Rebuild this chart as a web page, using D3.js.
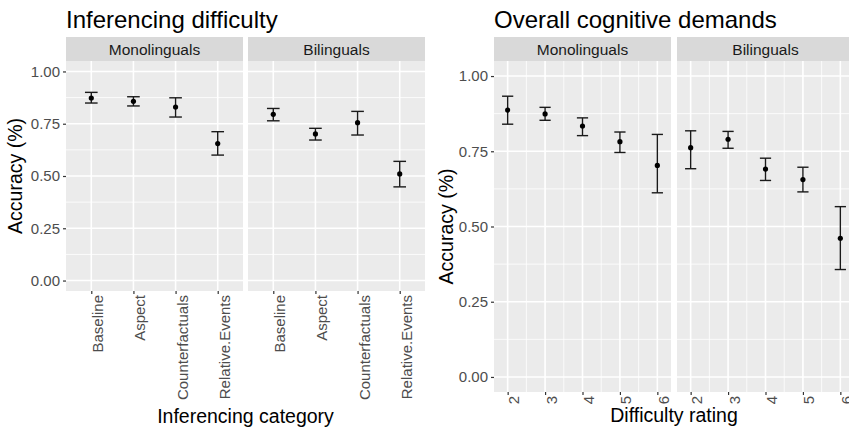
<!DOCTYPE html>
<html>
<head>
<meta charset="utf-8">
<script src="https://cdn.jsdelivr.net/npm/d3@7/dist/d3.min.js"></script>
<style>
  html, body { margin: 0; padding: 0; background: #fff; }
  svg { display: block; font-family: "Liberation Sans", Arial, Helvetica, sans-serif; }
</style>
</head>
<body>
<svg id="chart" width="849" height="430"></svg>
<script>
// ---------------- data ----------------
const groups = ["Monolinguals", "Bilinguals"];
const yTicks = [0, 0.25, 0.5, 0.75, 1];
const yTickLabels = ["0.00", "0.25", "0.50", "0.75", "1.00"];

// Left chart: inferencing difficulty
const infCategories = ["Baseline", "Aspect", "Counterfactuals", "Relative.Events"];
const infMonoMean = [0.873, 0.857, 0.830, 0.655];
const infMonoLow  = [0.849, 0.835, 0.782, 0.600];
const infMonoHigh = [0.900, 0.879, 0.874, 0.712];
const infBiMean   = [0.795, 0.701, 0.755, 0.510];
const infBiLow    = [0.764, 0.672, 0.696, 0.448];
const infBiHigh   = [0.823, 0.728, 0.809, 0.570];

// Right chart: overall cognitive demands
const ratings = [2, 3, 4, 5, 6];
const ratingLabels = ["2", "3", "4", "5", "6"];
const cogMonoMean = [0.887, 0.874, 0.834, 0.782, 0.703];
const cogMonoLow  = [0.840, 0.853, 0.802, 0.746, 0.612];
const cogMonoHigh = [0.933, 0.896, 0.861, 0.814, 0.806];
const cogBiMean   = [0.762, 0.790, 0.691, 0.656, 0.461];
const cogBiLow    = [0.692, 0.760, 0.653, 0.615, 0.357];
const cogBiHigh   = [0.818, 0.816, 0.727, 0.697, 0.566];

// ---------------- style ----------------
const PANEL_BG = "#ebebeb", STRIP_BG = "#d9d9d9";
const TICK_TXT = "#4d4d4d", STRIP_TXT = "#1a1a1a";
const svg = d3.select("#chart");

function build(cats, mean, low, high) {
  return cats.map((c, i) => ({ x: c, m: mean[i], lo: low[i], hi: high[i] }));
}

function drawChart(cfg) {
  const { left, panelW, gap, top, stripH, bottom, title, xTitle, xTitleY, yTitleX,
          makeX, minorX, series, capW, xLabelOffset, xFormat } = cfg;
  const panelTop = top + stripH;
  const y = d3.scaleLinear().domain([-0.05, 1.05]).range([bottom, panelTop]);
  const g = svg.append("g");

  // Title
  g.append("text").attr("x", left).attr("y", 28)
    .attr("font-size", 24).attr("fill", "#000").text(title);

  series.forEach((data, pi) => {
    const x0 = left + pi * (panelW + gap);
    const x = makeX(x0, x0 + panelW);
    const p = g.append("g");
    // strip
    p.append("rect").attr("x", x0).attr("y", top).attr("width", panelW).attr("height", stripH)
      .attr("fill", STRIP_BG);
    p.append("text").attr("x", x0 + panelW / 2).attr("y", top + stripH / 2)
      .attr("text-anchor", "middle").attr("dominant-baseline", "central")
      .attr("font-size", 15.5).attr("fill", STRIP_TXT).text(groups[pi]);
    // panel
    p.append("rect").attr("x", x0).attr("y", panelTop).attr("width", panelW)
      .attr("height", bottom - panelTop).attr("fill", PANEL_BG);

    // minor grid
    const minorY = yTicks.slice(0, -1).map((t, i) => (t + yTicks[i + 1]) / 2);
    p.selectAll(".minY").data(minorY).join("line")
      .attr("x1", x0).attr("x2", x0 + panelW)
      .attr("y1", d => y(d)).attr("y2", d => y(d))
      .attr("stroke", "#fff").attr("stroke-width", 0.8);
    p.selectAll(".minX").data(minorX).join("line")
      .attr("x1", d => x(d)).attr("x2", d => x(d))
      .attr("y1", panelTop).attr("y2", bottom)
      .attr("stroke", "#fff").attr("stroke-width", 0.8);
    // major grid
    p.selectAll(".majY").data(yTicks).join("line")
      .attr("x1", x0).attr("x2", x0 + panelW)
      .attr("y1", d => y(d)).attr("y2", d => y(d))
      .attr("stroke", "#fff").attr("stroke-width", 1.6);
    const xDomain = x.domainValues;
    p.selectAll(".majX").data(xDomain).join("line")
      .attr("x1", d => x(d)).attr("x2", d => x(d))
      .attr("y1", panelTop).attr("y2", bottom)
      .attr("stroke", "#fff").attr("stroke-width", 1.6);

    // x axis
    const xa = p.append("g").attr("transform", `translate(0,${bottom})`)
      .call(d3.axisBottom(x.scale).tickValues(xDomain).tickSize(3).tickSizeOuter(0)
        .tickFormat(xFormat));
    xa.select(".domain").remove();
    xa.selectAll(".tick line").attr("stroke", "#333").attr("stroke-width", 1.2);
    xa.selectAll(".tick text")
      .attr("font-size", 15).attr("fill", TICK_TXT)
      .attr("text-anchor", "end").attr("dy", null).attr("y", null)
      .attr("transform", `translate(${xLabelOffset},4) rotate(-90)`);

    // errorbars
    const eb = p.selectAll(".eb").data(data).join("g");
    eb.append("line")
      .attr("x1", d => x(d.x)).attr("x2", d => x(d.x))
      .attr("y1", d => y(d.lo)).attr("y2", d => y(d.hi))
      .attr("stroke", "#1a1a1a").attr("stroke-width", 1.4);
    eb.append("line")
      .attr("x1", d => x(d.x) - capW(x) / 2).attr("x2", d => x(d.x) + capW(x) / 2)
      .attr("y1", d => y(d.lo)).attr("y2", d => y(d.lo))
      .attr("stroke", "#1a1a1a").attr("stroke-width", 1.4);
    eb.append("line")
      .attr("x1", d => x(d.x) - capW(x) / 2).attr("x2", d => x(d.x) + capW(x) / 2)
      .attr("y1", d => y(d.hi)).attr("y2", d => y(d.hi))
      .attr("stroke", "#1a1a1a").attr("stroke-width", 1.4);
    eb.append("circle")
      .attr("cx", d => x(d.x)).attr("cy", d => y(d.m)).attr("r", 2.6)
      .attr("fill", "#000");
  });

  // y axis
  const ya = g.append("g").attr("transform", `translate(${left},0)`)
    .call(d3.axisLeft(y).tickValues(yTicks).tickSize(3).tickPadding(3)
      .tickFormat((d, i) => yTickLabels[i]));
  ya.select(".domain").remove();
  ya.selectAll(".tick line").attr("stroke", "#333").attr("stroke-width", 1.2);
  ya.selectAll(".tick text").attr("font-size", 15).attr("fill", TICK_TXT);

  // axis titles
  g.append("text")
    .attr("transform", `translate(${yTitleX},${(panelTop + bottom) / 2}) rotate(-90)`)
    .attr("text-anchor", "middle").attr("font-size", 19.5).attr("fill", "#000")
    .text("Accuracy (%)");
  g.append("text")
    .attr("x", left + panelW + gap / 2).attr("y", xTitleY)
    .attr("text-anchor", "middle").attr("font-size", 19.5).attr("fill", "#000")
    .text(xTitle);
}

// Left chart: discrete categories
drawChart({
  left: 66, panelW: 177, gap: 5, top: 37, stripH: 24, bottom: 291,
  title: "Inferencing difficulty", xTitle: "Inferencing category", xTitleY: 423,
  yTitleX: 22, xLabelOffset: 11.5, xFormat: d => d,
  makeX: (a, b) => {
    const s = d3.scalePoint().domain(infCategories).range([a, b]).padding(0.6);
    const f = v => s(v); f.scale = s; f.domainValues = infCategories; return f;
  },
  minorX: [],
  capW: x => x.scale.step() * 0.3,
  series: [build(infCategories, infMonoMean, infMonoLow, infMonoHigh),
           build(infCategories, infBiMean, infBiLow, infBiHigh)]
});

// Right chart: continuous ratings
const ebWidth = 0.3;
const rMin = d3.min(ratings) - ebWidth / 2, rMax = d3.max(ratings) + ebWidth / 2;
const rPad = (rMax - rMin) * 0.05;
drawChart({
  left: 494, panelW: 177, gap: 6, top: 37, stripH: 24, bottom: 392,
  title: "Overall cognitive demands", xTitle: "Difficulty rating", xTitleY: 422,
  yTitleX: 453, xLabelOffset: 11,
  xFormat: d => ratingLabels[ratings.indexOf(d)],
  makeX: (a, b) => {
    const s = d3.scaleLinear().domain([rMin - rPad, rMax + rPad]).range([a, b]);
    const f = v => s(v); f.scale = s; f.domainValues = ratings; return f;
  },
  minorX: ratings.slice(0, -1).map(r => r + 0.5),
  capW: x => Math.abs(x.scale(ebWidth) - x.scale(0)),
  series: [build(ratings, cogMonoMean, cogMonoLow, cogMonoHigh),
           build(ratings, cogBiMean, cogBiLow, cogBiHigh)]
});
</script>
</body>
</html>
